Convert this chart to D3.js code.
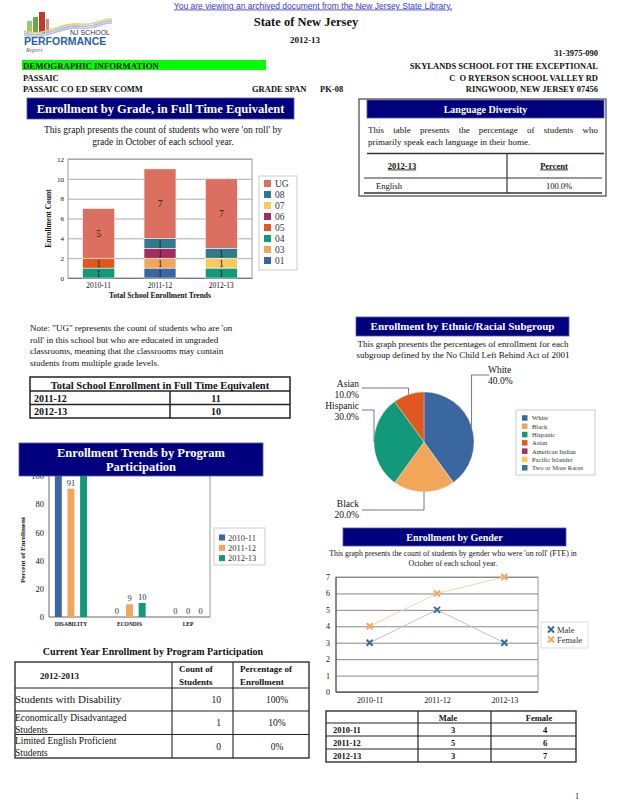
<!DOCTYPE html>
<html><head><meta charset="utf-8">
<script src="https://cdn.jsdelivr.net/npm/d3@7"></script>
<style>
html,body{margin:0;padding:0;background:#fff;}
svg text{font-family:"Liberation Serif","Times New Roman",serif;fill:#111;}
</style></head>
<body>
<svg id="page" width="618" height="800"></svg>
<script>
// ---------------- DATA ----------------
const years = ["2010-11", "2011-12", "2012-13"];
const gradeKeys = ["01", "03", "04", "05", "06", "07", "08", "UG"];
const grade01 = [0, 1, 0];
const grade03 = [0, 1, 0];
const grade04 = [1, 0, 1];
const grade05 = [1, 0, 0];
const grade06 = [0, 1, 0];
const grade07 = [0, 0, 1];
const grade08 = [0, 1, 1];
const gradeUG = [5, 7, 7];
const gradeColors = ["#3b67a0", "#f2a65a", "#11997a", "#e1581f", "#a22d60", "#fbc95b", "#2e7b8e", "#db6f60"];
const gradeTicks = [0, 2, 4, 6, 8, 10, 12];

const totalYears = ["2011-12", "2012-13"];
const totalValues = [11, 10];

const ethLabels = ["White", "Black", "Hispanic", "Asian", "American Indian", "Pacific Islander", "Two or More Races"];
const ethValues = [40, 20, 30, 10, 0, 0, 0];
const ethColors = ["#3b67a0", "#f2a65a", "#11997a", "#e1581f", "#a22d60", "#fbc95b", "#2e7b8e"];

const programs = ["DISABILITY", "ECONDIS", "LEP"];
const prog2010 = [100, 0, 0];
const prog2011 = [91, 9, 0];
const prog2012 = [100, 10, 0];
const progColors = ["#3b67a0", "#f2a65a", "#11997a"];
const progTicks = [0, 20, 40, 60, 80, 100];

const genderMale = [3, 5, 3];
const genderFemale = [4, 6, 7];
const genderTicks = [0, 1, 2, 3, 4, 5, 6, 7];

const languages = ["English"];
const languagePct = ["100.0%"];

const currentRows = ["Students with Disability", "Economically Disadvantaged|Students", "Limited English Proficient|Students"];
const currentCounts = [10, 1, 0];
const currentPct = ["100%", "10%", "0%"];

// ---------------- HELPERS ----------------
const svg = d3.select("#page");
const navy = "#00007e";
function txt(g, x, y, s, size, opts = {}) {
  const t = g.append("text").attr("x", x).attr("y", y).text(s)
    .style("font-size", size + "px");
  if (opts.bold) t.style("font-weight", "bold");
  if (opts.anchor) t.attr("text-anchor", opts.anchor);
  if (opts.fill) t.style("fill", opts.fill);
  if (opts.family) t.style("font-family", opts.family);
  if (opts.deco) t.style("text-decoration", opts.deco);
  return t;
}
function header(x, y, w, h, lines, size) {
  svg.append("rect").attr("x", x).attr("y", y).attr("width", w).attr("height", h)
    .attr("fill", navy).attr("stroke", "#5a5aa0").attr("stroke-width", 0.8);
  const n = lines.length;
  lines.forEach((l, i) => {
    txt(svg, x + w / 2, y + h / 2 + size * 0.35 + (i - (n - 1) / 2) * size * 1.1, l, size, {bold: true, anchor: "middle", fill: "#fff"});
  });
}
function line(g, x1, y1, x2, y2, color = "#222", w = 1) {
  g.append("line").attr("x1", x1).attr("y1", y1).attr("x2", x2).attr("y2", y2)
    .attr("stroke", color).attr("stroke-width", w);
}

// ---------------- TOP ----------------
txt(svg, 313, 8.5, "You are viewing an archived document from the New Jersey State Library.", 8.5,
  {anchor: "middle", fill: "#3a3ad0", family: "Liberation Sans, Arial, sans-serif", deco: "underline"});

// logo
const logo = svg.append("g");
logo.append("rect").attr("x", 27).attr("y", 21).attr("width", 5).attr("height", 12).attr("fill", "#9ccc6a");
logo.append("rect").attr("x", 33).attr("y", 17).attr("width", 5).attr("height", 16).attr("fill", "#6aa84f");
logo.append("rect").attr("x", 39).attr("y", 12).attr("width", 6).attr("height", 21).attr("fill", "#c0392b");
logo.append("rect").attr("x", 46).attr("y", 19).attr("width", 3).attr("height", 14).attr("fill", "#d98880");
[["#f7c873", 0], ["#8ecae6", 2], ["#c9b6e4", 4]].forEach(([c, o]) => {
  logo.append("path").attr("d", `M24,${31 + o} C45,${38 + o} 60,${22 + o} 80,${24 + o} S100,${18 + o} 112,${19 + o}`)
    .attr("fill", "none").attr("stroke", c).attr("stroke-width", 1.6);
});
txt(logo, 110, 34.5, "NJ SCHOOL", 7, {anchor: "end", family: "Liberation Sans, Arial, sans-serif", fill: "#335"});
txt(logo, 24, 45, "PERFORMANCE", 10.5, {bold: true, family: "Liberation Sans, Arial, sans-serif", fill: "#2a5fa8"});
txt(logo, 26, 52, "Report", 6, {family: "Liberation Serif, serif", fill: "#667"}).style("font-style", "italic");

txt(svg, 306, 26, "State of New Jersey", 12.5, {bold: true, anchor: "middle"});
txt(svg, 305, 43, "2012-13", 9, {bold: true, anchor: "middle"});
txt(svg, 598, 56, "31-3975-090", 8.5, {bold: true, anchor: "end"});
svg.append("rect").attr("x", 22).attr("y", 60).attr("width", 244).attr("height", 10).attr("fill", "#00ff00");
txt(svg, 23, 68.5, "DEMOGRAPHIC INFORMATION", 8.8, {bold: true});
txt(svg, 598, 68.5, "SKYLANDS SCHOOL FOT THE EXCEPTIONAL", 8.5, {bold: true, anchor: "end"});
txt(svg, 23, 80.5, "PASSAIC", 8.5, {bold: true});
txt(svg, 598, 80.5, "C  O RYERSON SCHOOL VALLEY RD", 8.5, {bold: true, anchor: "end"}).style("white-space", "pre");
txt(svg, 23, 92, "PASSAIC CO ED SERV COMM", 8.5, {bold: true});
txt(svg, 252, 92, "GRADE SPAN", 8.5, {bold: true});
txt(svg, 320, 92, "PK-08", 8.5, {bold: true});
txt(svg, 598, 92, "RINGWOOD, NEW JERSEY 07456", 8.5, {bold: true, anchor: "end"});

// ---------------- ENROLLMENT BY GRADE ----------------
header(27, 98, 267, 21, ["Enrollment by Grade, in Full Time Equivalent"], 12.5);
txt(svg, 163, 133, "This graph presents the count of students who were 'on roll' by", 9.5, {anchor: "middle"});
txt(svg, 163, 145, "grade in October of each school year.", 9.5, {anchor: "middle"});
{
  const g = svg.append("g");
  const L = 68, R = 252, T = 159, B = 278;
  const x = d3.scaleBand().domain(years).range([L, R]).paddingInner(0.48).paddingOuter(0.24);
  const y = d3.scaleLinear().domain([0, 12]).range([B, T]);
  g.append("rect").attr("x", L).attr("y", T).attr("width", R - L).attr("height", B - T)
    .attr("fill", "none").attr("stroke", "#999").attr("stroke-width", 1);
  g.append("g").attr("transform", `translate(${L},0)`)
    .call(d3.axisLeft(y).tickValues(gradeTicks).tickSize(-(R - L)).tickFormat(""))
    .call(a => a.select(".domain").remove())
    .call(a => a.selectAll("line").attr("stroke", "#aaa"));
  g.append("g").attr("transform", `translate(${L},0)`)
    .call(d3.axisLeft(y).tickValues(gradeTicks).tickSize(0).tickPadding(4))
    .call(a => a.select(".domain").remove())
    .call(a => a.selectAll("text").style("font-size", "7px").style("font-family", "Liberation Serif"));
  g.append("g").attr("transform", `translate(0,${B})`)
    .call(d3.axisBottom(x).tickSize(0).tickPadding(5))
    .call(a => a.select(".domain").attr("stroke", "#777"))
    .call(a => a.selectAll("text").style("font-size", "7.5px").style("font-family", "Liberation Serif"));
  const gradeSeries = [grade01, grade03, grade04, grade05, grade06, grade07, grade08, gradeUG];
  const rows = years.map((yr, i) => {
    const o = {year: yr};
    gradeKeys.forEach((k, j) => o[k] = gradeSeries[j][i]);
    return o;
  });
  const stacked = d3.stack().keys(gradeKeys)(rows);
  stacked.forEach((s, j) => {
    s.forEach(d => {
      if (d[1] - d[0] <= 0) return;
      g.append("rect").attr("x", x(d.data.year)).attr("y", y(d[1])).attr("width", x.bandwidth())
        .attr("height", y(d[0]) - y(d[1])).attr("fill", gradeColors[j]).attr("stroke", "#fff").attr("stroke-width", 0.5);
      txt(g, x(d.data.year) + x.bandwidth() / 2, (y(d[0]) + y(d[1])) / 2 + 3.5, String(d[1] - d[0]), 9.5, {anchor: "middle", fill: "#222"});
    });
  });
  txt(g, 0, 0, "Enrollment Count", 7.5, {bold: true, anchor: "middle"}).attr("transform", `translate(51,${(T + B) / 2}) rotate(-90)`);
  txt(g, 160, 298, "Total School Enrollment Trends", 7.5, {bold: true, anchor: "middle"});
  // legend
  g.append("rect").attr("x", 259).attr("y", 176).attr("width", 38).attr("height", 94).attr("fill", "#fff").attr("stroke", "#ccc");
  gradeKeys.slice().reverse().forEach((k, i) => {
    const j = gradeKeys.indexOf(k);
    const cy = 183.5 + i * 11;
    g.append("rect").attr("x", 264).attr("y", cy - 3.5).attr("width", 7).attr("height", 7).attr("fill", gradeColors[j]);
    txt(g, 275, cy + 3.5, k, 9.5, {fill: "#333"});
  });
}

// note
["Note: \"UG\" represents the count of students who are 'on",
 "roll' in this school but who are educated in ungraded",
 "classrooms, meaning that the classrooms may contain",
 "students from multiple grade levels."].forEach((s, i) => txt(svg, 30, 331 + i * 11.7, s, 9));

// total enrollment table
{
  const g = svg.append("g");
  const X0 = 30, X1 = 290, XM = 170;
  const ys = [377, 391, 404.5, 418];
  g.append("rect").attr("x", X0).attr("y", ys[0]).attr("width", X1 - X0).attr("height", ys[3] - ys[0])
    .attr("fill", "none").attr("stroke", "#222").attr("stroke-width", 1.5);
  line(g, X0, ys[1], X1, ys[1], "#222", 1.5);
  line(g, X0, ys[2], X1, ys[2], "#222", 1.5);
  line(g, XM, ys[1], XM, ys[3], "#222", 1.5);
  txt(g, 160, 388.5, "Total School Enrollment in Full Time Equivalent", 10.5, {bold: true, anchor: "middle"});
  totalYears.forEach((yr, i) => {
    txt(g, 34, ys[i + 1] + 10.5, yr, 10, {bold: true});
    txt(g, 216, ys[i + 1] + 10.5, String(totalValues[i]), 10, {bold: true, anchor: "middle"});
  });
}

// ---------------- LANGUAGE DIVERSITY ----------------
{
  const g = svg.append("g");
  g.append("rect").attr("x", 359).attr("y", 99).attr("width", 247).attr("height", 97)
    .attr("fill", "#fff").attr("stroke", "#444").attr("stroke-width", 1.2);
  header(367, 100, 237, 18, ["Language Diversity"], 10);
  const words1 = "This table presents the percentage of students who".split(" ");
  let measures = [];
  const tmp = g.append("g");
  words1.forEach(w => { const t = txt(tmp, 0, 0, w, 9); measures.push(t.node().getComputedTextLength()); });
  tmp.remove();
  const total = d3.sum(measures), gap = (598 - 368 - total) / (words1.length - 1);
  let cx = 368;
  words1.forEach((w, i) => { txt(g, cx, 133, w, 9); cx += measures[i] + gap; });
  txt(g, 368, 145, "primarily speak each language in their home.", 9);
  line(g, 367, 153.5, 604, 153.5, "#333", 1.5);
  line(g, 507, 153.5, 507, 193, "#333", 1.2);
  txt(g, 402, 168.5, "2012-13", 8.5, {bold: true, anchor: "middle", deco: "underline"});
  txt(g, 554, 168.5, "Percent", 8.5, {bold: true, anchor: "middle", deco: "underline"});
  line(g, 364, 178, 602, 178, "#333", 1.2);
  languages.forEach((l, i) => {
    txt(g, 376, 189 + i * 14, l, 8.5);
    txt(g, 559, 189 + i * 14, languagePct[i], 8.5, {anchor: "middle"});
  });
  line(g, 364, 193, 602, 193, "#333", 1.5);
}

// ---------------- ETHNIC PIE ----------------
header(356, 317, 213, 19, ["Enrollment by Ethnic/Racial Subgroup"], 11);
txt(svg, 463, 346.5, "This graph presents the percentages of enrollment for each", 9, {anchor: "middle"});
txt(svg, 463, 357.5, "subgroup defined by the No Child Left Behind Act of 2001", 9, {anchor: "middle"});
{
  const g = svg.append("g");
  const cx = 424, cy = 442, r = 50;
  const pie = d3.pie().sort(null).value(d => d)(ethValues);
  const arc = d3.arc().innerRadius(0).outerRadius(r);
  pie.forEach((p, i) => {
    if (p.value <= 0) return;
    g.append("path").attr("d", arc(p)).attr("transform", `translate(${cx},${cy})`)
      .attr("fill", ethColors[i]).attr("stroke", "#fff").attr("stroke-width", 0.3);
  });
  const lab = {
    0: {ey: 375, lx: 489, tx: 488, anchor: "start", ty: 373},
    1: {ey: 510, lx: 362, tx: 359, anchor: "end", ty: 507},
    2: {ey: 410, lx: 362, tx: 359, anchor: "end", ty: 409},
    3: {ey: 388, lx: 362, tx: 359, anchor: "end", ty: 387}
  };
  pie.forEach((p, i) => {
    if (p.value <= 0) return;
    const a = (p.startAngle + p.endAngle) / 2;
    const px = cx + r * Math.sin(a), py = cy - r * Math.cos(a);
    const L = lab[i];
    g.append("polyline").attr("points", `${px},${py} ${px},${L.ey} ${L.lx},${L.ey}`)
      .attr("fill", "none").attr("stroke", "#555").attr("stroke-width", 0.8);
    txt(g, L.tx, L.ty, ethLabels[i], 9.5, {anchor: L.anchor});
    txt(g, L.tx, L.ty + 10.5, d3.format(".1f")(p.value) + "%", 9.5, {anchor: L.anchor});
  });
  g.append("rect").attr("x", 516).attr("y", 410).attr("width", 79).attr("height", 65)
    .attr("fill", "#fff").attr("stroke", "#ccc");
  ethLabels.forEach((l, i) => {
    const yy = 418 + i * 8.3;
    g.append("rect").attr("x", 522).attr("y", yy - 2.8).attr("width", 5.5).attr("height", 5.5).attr("fill", ethColors[i]);
    txt(g, 532, yy + 2.3, l, 6.5, {fill: "#333"});
  });
}

// ---------------- PROGRAM PARTICIPATION ----------------
{
  const g = svg.append("g");
  const L = 49, R = 210, T = 460, B = 617;
  const y = d3.scaleLinear().domain([0, 100]).range([B, 476]);
  const x0 = d3.scaleBand().domain(programs).range([L, R]).paddingInner(0.45).paddingOuter(0.1);
  const x1 = d3.scaleBand().domain(years).range([0, x0.bandwidth()]).paddingInner(0.45);
  line(g, L, T, L, B, "#666", 1);
  line(g, R, T, R, B, "#999", 1);
  line(g, L, B, R, B, "#666", 1.2);
  g.append("g").attr("transform", `translate(${L},0)`)
    .call(d3.axisLeft(y).tickValues(progTicks).tickSize(0).tickPadding(5))
    .call(a => a.select(".domain").remove())
    .call(a => a.selectAll("text").style("font-size", "8.5px").style("font-family", "Liberation Serif"));
  g.append("g").attr("transform", `translate(0,${B})`)
    .call(d3.axisBottom(x0).tickSize(0).tickPadding(5))
    .call(a => a.select(".domain").remove())
    .call(a => a.selectAll("text").style("font-size", "5.5px").style("font-weight", "bold").style("font-family", "Liberation Serif"));
  const series = [prog2010, prog2011, prog2012];
  programs.forEach((p, i) => {
    series.forEach((s, j) => {
      const bx = x0(p) + x1(years[j]);
      if (s[i] > 0) g.append("rect").attr("x", bx).attr("y", y(s[i])).attr("width", x1.bandwidth())
        .attr("height", B - y(s[i])).attr("fill", progColors[j]);
      txt(g, bx + x1.bandwidth() / 2, y(s[i]) - 3, String(s[i]), 8.5, {anchor: "middle", fill: "#333"});
    });
  });
  txt(g, 0, 0, "Percent of Enrollment", 7, {bold: true, anchor: "middle"}).attr("transform", `translate(25,550) rotate(-90)`);
  g.append("rect").attr("x", 214).attr("y", 528).attr("width", 51).attr("height", 37).attr("fill", "#fff").attr("stroke", "#ccc");
  years.forEach((yr, j) => {
    const yy = 537.5 + j * 10.3;
    g.append("rect").attr("x", 219).attr("y", yy - 3).attr("width", 6).attr("height", 6).attr("fill", progColors[j]);
    txt(g, 228, yy + 3, yr, 8.5, {fill: "#333"});
  });
}
header(19, 443, 244, 33, ["Enrollment Trends by Program", "Participation"], 12.5);

// current year table
txt(svg, 153, 655, "Current Year Enrollment by Program Participation", 10, {bold: true, anchor: "middle"});
{
  const g = svg.append("g");
  const xs = [15, 172, 233, 309];
  const ys = [662, 688, 711, 734.5, 758];
  g.append("rect").attr("x", xs[0]).attr("y", ys[0]).attr("width", xs[3] - xs[0]).attr("height", ys[4] - ys[0])
    .attr("fill", "none").attr("stroke", "#222").attr("stroke-width", 1.3);
  ys.slice(1, 4).forEach(yy => line(g, xs[0], yy, xs[3], yy, "#222", 1.1));
  line(g, xs[1], ys[0], xs[1], ys[4], "#222", 1.1);
  line(g, xs[2], ys[0], xs[2], ys[4], "#222", 1.1);
  txt(g, 40, 679, "2012-2013", 9, {bold: true});
  txt(g, 179, 672, "Count of", 9, {bold: true});
  txt(g, 179, 685, "Students", 9, {bold: true});
  txt(g, 240, 672, "Percentage of", 9, {bold: true});
  txt(g, 240, 685, "Enrollment", 9, {bold: true});
  currentRows.forEach((r, i) => {
    const parts = r.split("|");
    if (parts.length === 1) txt(g, 15, ys[i + 1] + 15, parts[0], 11);
    else parts.forEach((p, k) => txt(g, 15, ys[i + 1] + 9.5 + k * 12, p, 9.5));
    txt(g, 221, ys[i + 1] + 15, String(currentCounts[i]), 9.5, {anchor: "end"});
    txt(g, 277, ys[i + 1] + 15, currentPct[i], 9.5, {anchor: "middle"});
  });
}

// ---------------- GENDER ----------------
header(343, 528, 223, 18, ["Enrollment by Gender"], 10);
txt(svg, 453, 556, "This graph presents the count of students by gender who were 'on roll' (FTE) in", 7.8, {anchor: "middle"});
txt(svg, 453, 566, "October of each school year.", 7.8, {anchor: "middle"});
{
  const g = svg.append("g");
  const L = 336, R = 538, T = 577, B = 692;
  const x = d3.scalePoint().domain(years).range([L, R]).padding(0.5);
  const y = d3.scaleLinear().domain([0, 7]).range([B, T]);
  g.append("rect").attr("x", L).attr("y", T).attr("width", R - L).attr("height", B - T)
    .attr("fill", "none").attr("stroke", "#999");
  g.append("g").attr("transform", `translate(${L},0)`)
    .call(d3.axisLeft(y).tickValues(genderTicks).tickSize(-(R - L)).tickFormat(""))
    .call(a => a.select(".domain").remove())
    .call(a => a.selectAll("line").attr("stroke", "#888"));
  g.append("g").attr("transform", `translate(${L},0)`)
    .call(d3.axisLeft(y).tickValues(genderTicks).tickSize(0).tickPadding(6).tickFormat(d3.format("d")))
    .call(a => a.select(".domain").remove())
    .call(a => a.selectAll("text").style("font-size", "8px").style("font-family", "Liberation Serif"));
  line(g, L, T, L, B, "#444", 1);
  line(g, L, B, R, B, "#444", 1);
  g.append("g").attr("transform", `translate(0,${B})`)
    .call(d3.axisBottom(x).tickSize(0).tickPadding(5))
    .call(a => a.select(".domain").remove())
    .call(a => a.selectAll("text").style("font-size", "8px").style("font-family", "Liberation Serif"));
  const sets = [[genderMale, "#3b67a0", "#b4c4de"], [genderFemale, "#f5a75c", "#fad2ad"]];
  const mk = (gg, px, py, c) => {
    gg.append("path").attr("d", `M${px - 3},${py - 3}L${px + 3},${py + 3}M${px - 3},${py + 3}L${px + 3},${py - 3}`)
      .attr("stroke", c).attr("stroke-width", 2);
  };
  sets.forEach(([vals, c, lc]) => {
    g.append("path").datum(vals).attr("fill", "none").attr("stroke", lc).attr("stroke-width", 1)
      .attr("d", d3.line().x((d, i) => x(years[i])).y(d => y(d)));
    vals.forEach((v, i) => mk(g, x(years[i]), y(v), c));
  });
  g.append("rect").attr("x", 541).attr("y", 622).attr("width", 47).attr("height", 26).attr("fill", "#fff").attr("stroke", "#ddd");
  ["Male", "Female"].forEach((l, i) => {
    const yy = 629.5 + i * 10;
    mk(g, 551, yy, sets[i][1]);
    txt(g, 557, yy + 3, l, 8.5, {fill: "#333"});
  });
  const xs = [326, 418, 491, 576];
  const ys = [711, 723, 736, 749, 762];
  g.append("rect").attr("x", xs[0]).attr("y", ys[0]).attr("width", xs[3] - xs[0]).attr("height", ys[4] - ys[0])
    .attr("fill", "none").attr("stroke", "#222").attr("stroke-width", 1.3);
  ys.slice(1, 4).forEach(yy => line(g, xs[0], yy, xs[3], yy, "#222", 1.2));
  line(g, xs[1], ys[0], xs[1], ys[4], "#222", 1.2);
  line(g, xs[2], ys[0], xs[2], ys[4], "#222", 1.2);
  txt(g, 448, 720.5, "Male", 8.5, {bold: true, anchor: "middle"});
  txt(g, 539, 720.5, "Female", 8.5, {bold: true, anchor: "middle"});
  years.forEach((yr, i) => {
    txt(g, 333, ys[i + 1] + 9.5, yr, 8.5, {bold: true});
    txt(g, 453, ys[i + 1] + 9.5, String(genderMale[i]), 8.5, {bold: true, anchor: "middle"});
    txt(g, 545, ys[i + 1] + 9.5, String(genderFemale[i]), 8.5, {bold: true, anchor: "middle"});
  });
}
txt(svg, 577, 799, "1", 8, {anchor: "middle"});
</script>
</body></html>
